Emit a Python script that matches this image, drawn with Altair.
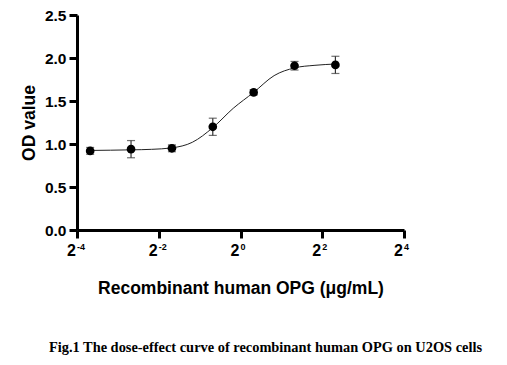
import altair as alt
import pandas as pd

conc = [0.078125, 0.15625, 0.3125, 0.625, 1.25, 2.5, 5.0]   # µg/mL
od_mean = [0.92, 0.94, 0.95, 1.20, 1.60, 1.91, 1.92]
od_err = [0.04, 0.10, 0.04, 0.10, 0.03, 0.05, 0.10]

# Fitted curve at points and half-steps
curve_conc = [0.078125, 0.1105, 0.15625, 0.221, 0.3125, 0.442, 0.625,
              0.884, 1.25, 1.768, 2.5, 3.536, 5.0]
curve_od = [0.925, 0.928, 0.932, 0.938, 0.955, 1.02, 1.19,
            1.415, 1.60, 1.795, 1.885, 1.915, 1.93]

# Axis ticks
x_ticks = [0.0625, 0.25, 1, 4, 16]
x_tick_base = ["2", "2", "2", "2", "2"]
x_tick_exp = ["-4", "-2", "0", "2", "4"]
y_ticks = [0.0, 0.5, 1.0, 1.5, 2.0, 2.5]

df = pd.DataFrame({"conc": conc, "od": od_mean, "err": od_err})
df["lo"] = df["od"] - df["err"]
df["hi"] = df["od"] + df["err"]
curve_df = pd.DataFrame({"conc": curve_conc, "od": curve_od})
tick_df = pd.DataFrame({"conc": x_ticks, "base": x_tick_base, "exp": x_tick_exp})

FONT = "Liberation Sans"
H = 215

x_scale = alt.Scale(type="log", base=2, domain=[0.0625, 16], nice=False)
x_enc = alt.X(
    "conc:Q", scale=x_scale,
    axis=alt.Axis(values=x_ticks, labels=False,
                  title="Recombinant human OPG (μg/mL)", titlePadding=40),
)
y_enc = alt.Y(
    "od:Q",
    scale=alt.Scale(domain=[0, 2.5], nice=False),
    axis=alt.Axis(values=y_ticks, format=".1f", title="OD value", titlePadding=6, labelPadding=3),
)

base = alt.Chart(df)

curve = alt.Chart(curve_df).mark_line(color="#222222", strokeWidth=1, interpolate="monotone").encode(
    x=x_enc, y=y_enc)
bars = base.mark_rule(color="#333333", strokeWidth=1.2).encode(x=x_enc, y=alt.Y("lo:Q"), y2="hi:Q")
cap_lo = base.mark_tick(color="#333333", size=8, thickness=1.2, orient="horizontal").encode(x=x_enc, y="lo:Q")
cap_hi = base.mark_tick(color="#333333", size=8, thickness=1.2, orient="horizontal").encode(x=x_enc, y="hi:Q")
points = base.mark_point(filled=True, color="black", size=75, opacity=1, shape="circle").encode(x=x_enc, y=y_enc)

lab_base = alt.Chart(tick_df).mark_text(
    font=FONT, fontSize=16, fontWeight="bold", color="black",
    align="right", baseline="alphabetic", dx=-1,
).encode(x=alt.X("conc:Q", scale=x_scale), y=alt.value(H + 26), text="base:N")
lab_exp = alt.Chart(tick_df).mark_text(
    font=FONT, fontSize=9, fontWeight="bold", color="black",
    align="left", baseline="alphabetic", dx=0,
).encode(x=alt.X("conc:Q", scale=x_scale), y=alt.value(H + 20), text="exp:N")

chart = (
    alt.layer(curve, bars, cap_lo, cap_hi, points, lab_base, lab_exp)
    .properties(
        width=327, height=H,
        autosize=alt.AutoSizeParams(type="none"),
        padding={"left": 69, "top": 7, "right": 90, "bottom": 128},
        title=alt.TitleParams(
            "Fig.1 The dose-effect curve of recombinant human OPG on U2OS cells",
            orient="bottom", anchor="middle", dx=25, offset=44,
            font="Liberation Serif", fontSize=14.4, fontWeight="bold", color="black",
        ),
    )
    .configure_view(stroke=None)
    .configure_axis(
        grid=False, domainColor="black", domainWidth=3, tickColor="black", tickWidth=3,
        tickSize=8, labelFont=FONT, labelFontSize=15.5, labelFontWeight="bold", labelColor="black",
        titleFont=FONT, titleFontSize=17.5, titleFontWeight="bold", titleColor="black",
    )
)

chart.save("out.html", embed_options={"renderer": "svg", "actions": False})
